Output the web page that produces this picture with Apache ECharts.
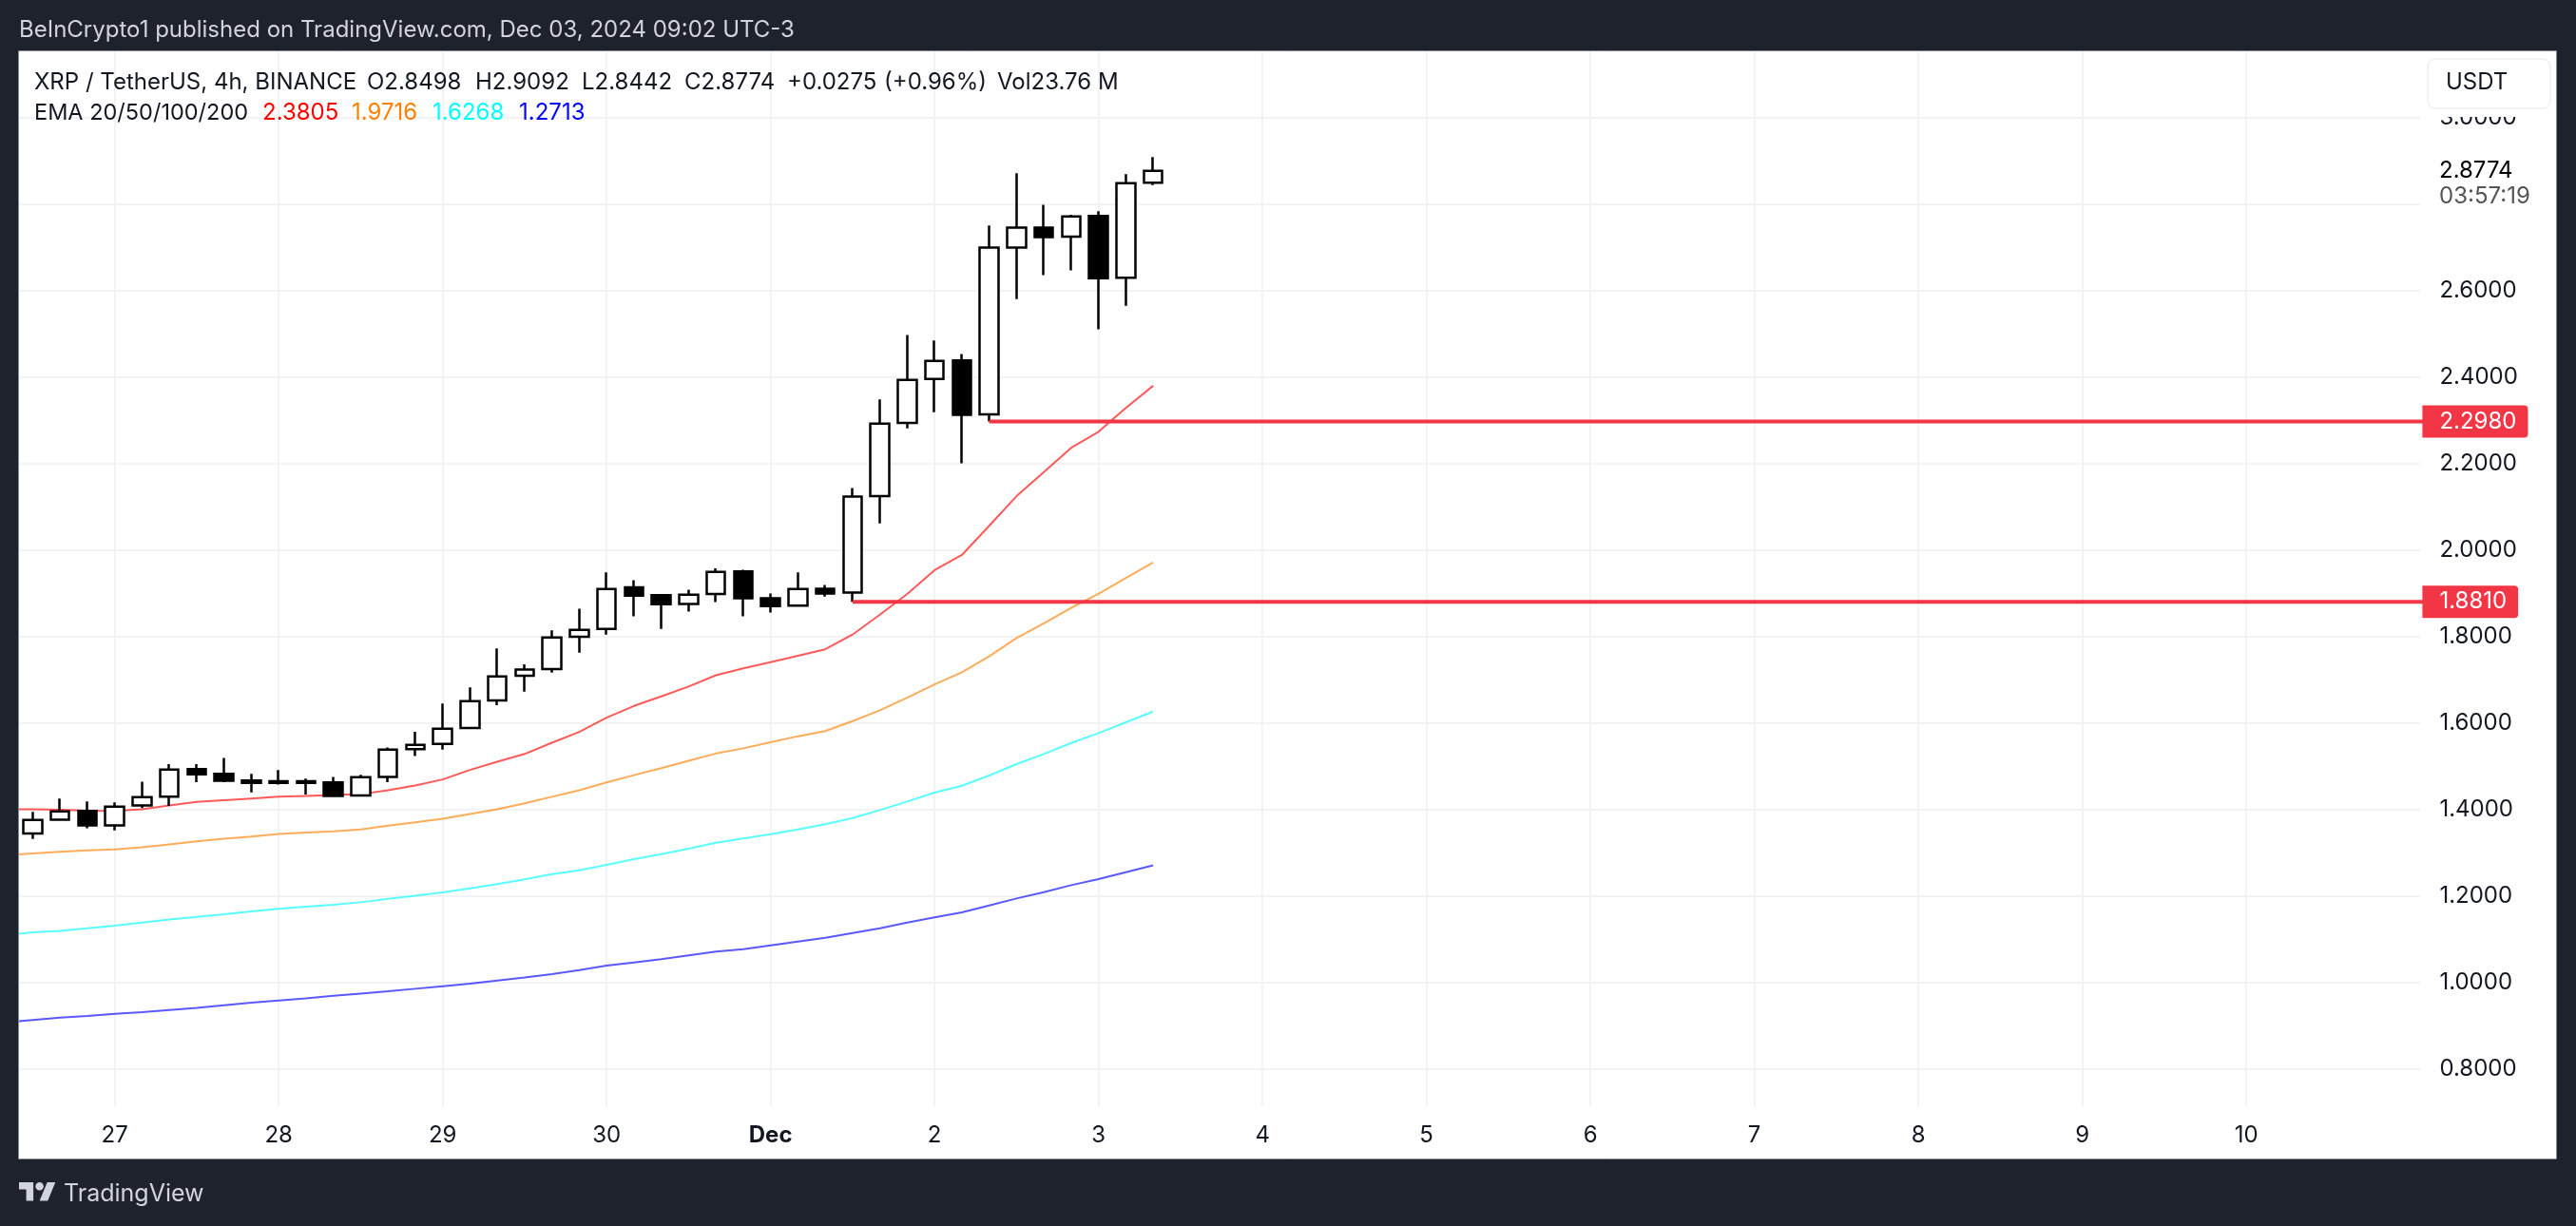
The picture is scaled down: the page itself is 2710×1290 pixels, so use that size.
<!DOCTYPE html>
<html><head><meta charset="utf-8">
<style>html,body{margin:0;padding:0;background:#1e222d}#c{width:2710px;height:1290px}</style>
<script src="https://cdn.jsdelivr.net/npm/echarts@6/dist/echarts.min.js"></script>
</head><body><div id="c"></div>
<script>
const opens=[1.345,1.377,1.397,1.364,1.410,1.430,1.494,1.483,1.4675,1.466,1.466,1.463,1.433,1.476,1.540,1.552,1.589,1.653,1.710,1.725,1.800,1.818,1.914,1.896,1.876,1.899,1.951,1.889,1.872,1.911,1.902,2.125,2.2945,2.396,2.439,2.314,2.700,2.746,2.725,2.773,2.630,2.8498];
const closes=[1.3765,1.396,1.364,1.407,1.429,1.493,1.482,1.467,1.462,1.462,1.462,1.432,1.475,1.539,1.550,1.5875,1.651,1.708,1.724,1.7985,1.816,1.9105,1.895,1.875,1.897,1.950,1.889,1.871,1.9105,1.900,2.124,2.293,2.394,2.438,2.313,2.700,2.746,2.724,2.772,2.629,2.849,2.8774];
const lows=[1.3325,1.374,1.357,1.352,1.404,1.409,1.464,1.464,1.440,1.458,1.435,1.429,1.432,1.464,1.524,1.539,1.586,1.642,1.673,1.717,1.763,1.805,1.847,1.818,1.858,1.880,1.847,1.856,1.869,1.893,1.881,2.062,2.282,2.319,2.201,2.298,2.581,2.636,2.647,2.511,2.5655,2.8442];
const highs=[1.395,1.426,1.419,1.417,1.465,1.5055,1.5055,1.520,1.483,1.492,1.472,1.476,1.481,1.544,1.580,1.6455,1.683,1.773,1.736,1.815,1.865,1.949,1.931,1.897,1.909,1.958,1.955,1.900,1.949,1.920,2.144,2.349,2.498,2.485,2.454,2.751,2.872,2.799,2.776,2.784,2.870,2.9092];
// EMA values: first entry is the off-panel bar just left of the first candle
const ema20=[1.401,1.401,1.400,1.398,1.397,1.401,1.410,1.418,1.422,1.426,1.430,1.432,1.434,1.436,1.445,1.456,1.470,1.492,1.511,1.529,1.555,1.580,1.613,1.640,1.662,1.685,1.711,1.727,1.741,1.756,1.771,1.805,1.851,1.899,1.954,1.989,2.0565,2.125,2.181,2.237,2.274,2.329,2.3805];
const ema50=[1.295,1.299,1.303,1.306,1.308,1.313,1.320,1.327,1.333,1.338,1.344,1.347,1.350,1.3545,1.363,1.371,1.379,1.390,1.401,1.415,1.430,1.445,1.463,1.480,1.496,1.513,1.530,1.542,1.556,1.570,1.582,1.605,1.630,1.659,1.690,1.718,1.7545,1.797,1.831,1.867,1.899,1.936,1.9716];
const ema100=[1.110,1.1165,1.120,1.126,1.132,1.139,1.146,1.152,1.158,1.165,1.171,1.176,1.180,1.186,1.194,1.201,1.209,1.218,1.228,1.239,1.251,1.260,1.2725,1.2857,1.2974,1.3099,1.3238,1.3333,1.3436,1.3545,1.3663,1.3809,1.3992,1.419,1.4395,1.4556,1.4791,1.5055,1.5289,1.5545,1.5773,1.6022,1.6268];
const ema200=[0.908,0.914,0.919,0.923,0.928,0.932,0.937,0.942,0.948,0.954,0.959,0.964,0.970,0.975,0.980,0.986,0.992,0.998,1.005,1.012,1.020,1.029,1.0395,1.0469,1.0542,1.063,1.0718,1.0776,1.0864,1.0952,1.104,1.115,1.126,1.139,1.151,1.1626,1.1787,1.1948,1.2095,1.2256,1.2395,1.2557,1.2713];
const dayTicks=['27','28','29','30','Dec','2','3','4','5','6','7','8','9','10'];
const levelA=2.298, levelAStart=36;   // slot of the candle the level starts from
const levelB=1.881, levelBStart=31;
const slotCount=90;

const categories=Array.from({length:slotCount},(_,i)=>String(i));
const isDayTick=i=>i>=4&&(i-4)%6===0&&(i-4)/6<dayTicks.length;
const candleData=[['-','-','-','-']].concat(opens.map((o,i)=>[o,closes[i],lows[i],highs[i]]));
const levelData=(v,start)=>categories.map((_,i)=>i>=start?v:null);

const FONT='Inter';
const DARK='#1e222d', INK='#131722', RED='#f23645';
const emaLine=(name,data,color)=>({name,type:'line',data,symbol:'none',silent:true,z:3,
  lineStyle:{color,width:2},itemStyle:{color},animation:false});
const levelLine=(v,start)=>({type:'line',data:levelData(v,start),symbol:'none',silent:true,z:60,connectNulls:false,
  lineStyle:{color:RED,width:4},animation:false,
  endLabel:{show:true,formatter:()=>v.toFixed(4),color:'#fff',fontFamily:FONT,fontSize:24,backgroundColor:RED,
    lineHeight:34,padding:[0,12,0,18],borderRadius:[0,4,4,0],offset:[-24,0]}});
const txt=(text,x,y,fill,size,extra)=>({type:'text',z:70,style:Object.assign({text,x,y,fill,
  font:(size)+'px '+FONT,textVerticalAlign:'middle',textAlign:'left'},extra||{})});

const option={
  animation:false,
  backgroundColor:DARK,
  grid:{left:5.65,right:145.6,top:54,bottom:126,containLabel:false},
  xAxis:{type:'category',data:categories,boundaryGap:false,
    axisLine:{show:false},axisTick:{show:false},
    splitLine:{show:true,interval:(i)=>isDayTick(i),lineStyle:{color:'#f2f3f4',width:2}},
    axisLabel:{interval:(i)=>isDayTick(i),margin:19,color:INK,fontFamily:FONT,fontSize:24,
      formatter:(v)=>{const l=dayTicks[(Number(v)-4)/6];return l==='Dec'?'{b|Dec}':l;},
      rich:{b:{fontFamily:FONT,fontSize:24,fontWeight:'bold',color:INK}}}},
  yAxis:{type:'value',position:'right',min:0.7143,max:3.1538,splitNumber:12,scale:true,
    axisLine:{show:false},axisTick:{show:false},
    splitLine:{show:true,showMinLine:false,showMaxLine:false,lineStyle:{color:'#f2f3f4',width:2}},
    axisLabel:{margin:2,color:INK,fontFamily:FONT,fontSize:24,showMinLabel:false,showMaxLabel:false,
      padding:[2,0,0,0],formatter:(v)=>v.toFixed(4)}},
  series:[
    emaLine('EMA 20',ema20,'rgba(255,0,0,0.65)'),
    emaLine('EMA 50',ema50,'rgba(255,128,0,0.65)'),
    emaLine('EMA 100',ema100,'rgba(0,255,255,0.65)'),
    emaLine('EMA 200',ema200,'rgba(0,0,255,0.65)'),
    {type:'candlestick',data:candleData,barWidth:20,z:5,silent:true,animation:false,
     itemStyle:{color:'#ffffff',color0:'#000000',borderColor:'#000000',borderColor0:'#000000',borderWidth:2.5}},
    levelLine(levelA,levelAStart),
    levelLine(levelB,levelBStart)
  ],
  graphic:{elements:[
    {type:'rect',z:-10,shape:{x:20,y:54,width:2669,height:1165},style:{fill:'#ffffff'}},
    // frame over the bleed of the plot
    {type:'rect',z:50,shape:{x:0,y:0,width:19,height:1290},style:{fill:DARK}},
    {type:'rect',z:50,shape:{x:2546,y:54,width:20,height:1110},style:{fill:'#ffffff'}},
    {type:'rect',z:51,shape:{x:19.5,y:53.5,width:2670,height:1166},style:{fill:'none',stroke:'#868993',lineWidth:1}},
    // USDT button and the last-price block that covers the axis labels behind it
    {type:'rect',z:52,shape:{x:2554,y:62,width:129,height:61,r:0},style:{fill:'#ffffff'}},
    {type:'rect',z:53,shape:{x:2554,y:62,width:129,height:52,r:8},style:{fill:'#ffffff',stroke:'#eff0f4',lineWidth:1.5}},
    {type:'rect',z:52,shape:{x:2552,y:165,width:131,height:58},style:{fill:'#ffffff'}},
    txt('USDT',2573,87,INK,24),
    txt('2.8774',2566,180,'#000000',24),
    txt('03:57:19',2566,207,'#555555',24),
    // header
    txt('BeInCrypto1 published on TradingView.com, Dec 03, 2024 09:02 UTC-3',20,32,'#d1d4dc',24),
    txt('XRP / TetherUS, 4h, BINANCE',36,87,INK,24),
    txt('O2.8498',386,87,INK,24),
    txt('H2.9092',500,87,INK,24),
    txt('L2.8442',612,87,INK,24),
    txt('C2.8774',720,87,INK,24),
    txt('+0.0275',828,87,INK,24),
    txt('(+0.96%)',930,87,INK,24),
    txt('Vol23.76 M',1049,87,INK,24),
    txt('EMA 20/50/100/200',36,119,INK,23.5),
    txt('2.3805',276,119,'#ff0000',24),
    txt('1.9716',370,119,'#ff8000',24),
    txt('1.6268',455,119,'#00ffff',24),
    txt('1.2713',546,119,'#0000ff',24),
    // footer
    {type:'polygon',z:70,shape:{points:[[20,1244],[35.1,1244],[35.1,1263.4],[27.6,1263.4],[27.6,1251.6],[20,1251.6]]},style:{fill:'#d1d4dc'}},
    {type:'polygon',z:70,shape:{points:[[41.6,1263.4],[49.7,1244],[58.3,1244],[50.2,1263.4]]},style:{fill:'#d1d4dc'}},
    {type:'circle',z:70,shape:{cx:41.6,cy:1248.3,r:4.3},style:{fill:'#d1d4dc'}},
    txt('TradingView',67,1256,'#d1d4dc',25)
  ]}
};
echarts.init(document.getElementById('c')).setOption(option);
</script></body></html>
